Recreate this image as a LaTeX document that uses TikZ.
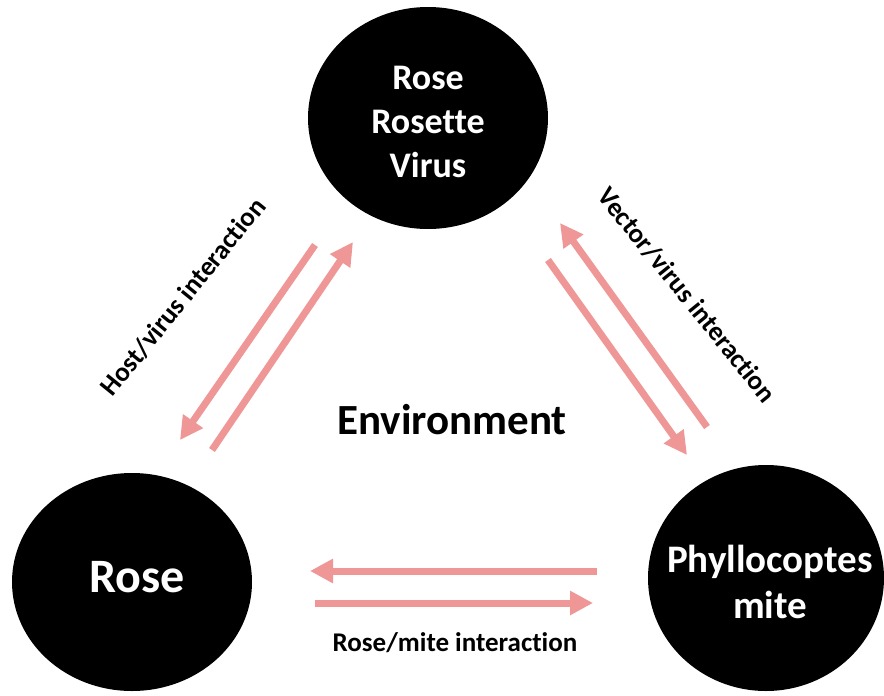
\documentclass[tikz,border=0pt]{standalone}
\usepackage{fontspec}
\setmainfont{Carlito}[Ligatures=NoCommon]
\usetikzlibrary{arrows.meta,shapes.geometric}
\definecolor{arr}{RGB}{239,150,150}
\begin{document}
\begin{tikzpicture}[x=1pt,y=-1pt,
  blob/.style={ellipse, fill=black, inner sep=0pt},
  wtext/.style={text=white, align=center, inner sep=0pt},
  link/.style={draw=arr, line width=7pt, -{Triangle[width=23pt,length=23pt]}},
  lbl/.style={font=\bfseries\fontsize{27}{32}\selectfont}]
\useasboundingbox (0,0) rectangle (884,696);
\node[blob, minimum width=240pt, minimum height=222pt] (virus) at (428,118) {};
\node[wtext, font=\bfseries\fontsize{36}{44}\selectfont] (virust) at ([yshift=-4pt]virus.center) {Rose\\Rosette\\Virus};
\node[blob, minimum width=240pt, minimum height=218pt] (rose) at (132,582) {};
\node[wtext, font=\bfseries\fontsize{48}{56}\selectfont] (roset) at ([xshift=5pt,yshift=5pt]rose.center) {Rose};
\node[blob, minimum width=236pt, minimum height=226pt] (mite) at (766,578) {};
\node[wtext, font=\bfseries\fontsize{39}{46}\selectfont] (mitet) at ([xshift=4pt,yshift=-4pt]mite.center) {Phyllocoptes\\mite};
\node[font=\bfseries\fontsize{43}{50}\selectfont] (env) at (452,420) {Environment};
% arrow end points
\coordinate (hv1s) at (315,245); \coordinate (hv1e) at (180,440);
\coordinate (hv2s) at (212,450); \coordinate (hv2e) at (353,242);
\coordinate (vv1s) at (707,427); \coordinate (vv1e) at (560,223);
\coordinate (vv2s) at (548,260); \coordinate (vv2e) at (687,455);
\coordinate (rm1s) at (597,571); \coordinate (rm1e) at (310,571);
\coordinate (rm2s) at (315,603); \coordinate (rm2e) at (593,603);
\draw[link] (hv1s) -- (hv1e);
\draw[link] (hv2s) -- (hv2e);
\draw[link] (vv1s) -- (vv1e);
\draw[link] (vv2s) -- (vv2e);
\draw[link] (rm1s) -- (rm1e);
\draw[link] (rm2s) -- (rm2e);
\node[lbl, rotate=51] (hvl) at (183,297) {Host/virus interaction};
\node[lbl, rotate=-51] (vvl) at (687,295) {Vector/virus interaction};
\node[lbl] (rml) at (455,643) {Rose/mite interaction};
\end{tikzpicture}
\end{document}
